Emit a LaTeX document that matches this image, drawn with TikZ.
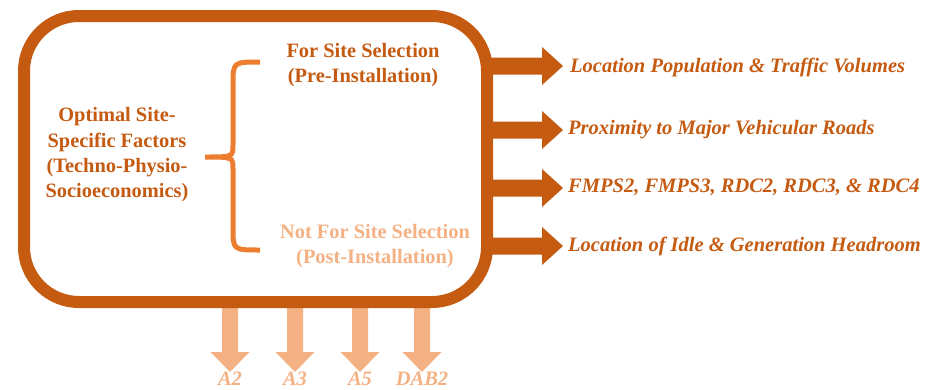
\documentclass[tikz,border=0pt]{standalone}
\usepackage{fontspec}
\setmainfont{Liberation Serif}
\definecolor{dark}{HTML}{C55A11}
\definecolor{mid}{HTML}{ED7D31}
\definecolor{light}{HTML}{F4B183}
\begin{document}
\begin{tikzpicture}[x=1pt,y=-1pt,
  rtext/.style={anchor=west,font=\fontsize{20.5}{24}\selectfont\bfseries\itshape,text=dark,inner sep=0pt},
  ctext/.style={align=center,font=\fontsize{20.4}{25.3}\selectfont\bfseries,inner sep=0pt},
  btext/.style={font=\fontsize{20.5}{24}\selectfont\bfseries\itshape,text=light,inner sep=0pt}]
\useasboundingbox (0,0) rectangle (930,389);
% right arrows
\foreach \y/\n in {66/a1,130/a2,188/a3,246/a4}{
  \coordinate (\n) at (480,\y);
  \fill[dark] (480,\y-8.5) -- (542,\y-8.5) -- (542,\y-19) -- (563,\y) -- (542,\y+19) -- (542,\y+8.5) -- (480,\y+8.5) -- cycle;
}
% bottom arrows
\foreach \x/\n in {230/b1,295/b2,360/b3,422/b4}{
  \coordinate (\n) at (\x,300);
  \fill[light] (\x-8,300) -- (\x+8,300) -- (\x+8,352) -- (\x+19.5,352) -- (\x,372) -- (\x-19.5,352) -- (\x-8,352) -- cycle;
}
% main box
\node[draw=dark,line width=12pt,rounded corners=55pt,minimum width=463pt,minimum height=286pt,fill=white,inner sep=0pt] (box) at (255.5,159) {};
% brace
\draw[mid,line width=5pt] (260,62) .. controls (233,62) and (233,62) .. (233,85) -- (233,145) .. controls (233,157) .. (205,157)
  (205,157) .. controls (233,157) .. (233,169) -- (233,228) .. controls (233,250) and (233,250) .. (260,250);
\node[ctext,text=dark] (left) at (117,155) {Optimal Site-\\Specific Factors\\(Techno-Physio-\\Socioeconomics)};
\node[ctext,text=dark] (pre) at (363,65) {For Site Selection\\(Pre-Installation)};
\node[ctext,text=light] (post) at (375,246) {Not For Site Selection\\(Post-Installation)};
\node[rtext] (t1) at (570,67) {Location Population \& Traffic Volumes};
\node[rtext] (t2) at (568,130) {Proximity to Major Vehicular Roads};
\node[rtext] (t3) at (568,187) {FMPS2, FMPS3, RDC2, RDC3, \& RDC4};
\node[rtext] (t4) at (568,246) {Location of Idle \& Generation Headroom};
\node[btext] (l1) at (230,379) {A2};
\node[btext] (l2) at (295,379) {A3};
\node[btext] (l3) at (360,379) {A5};
\node[btext] (l4) at (422,379) {DAB2};
\end{tikzpicture}
\end{document}
